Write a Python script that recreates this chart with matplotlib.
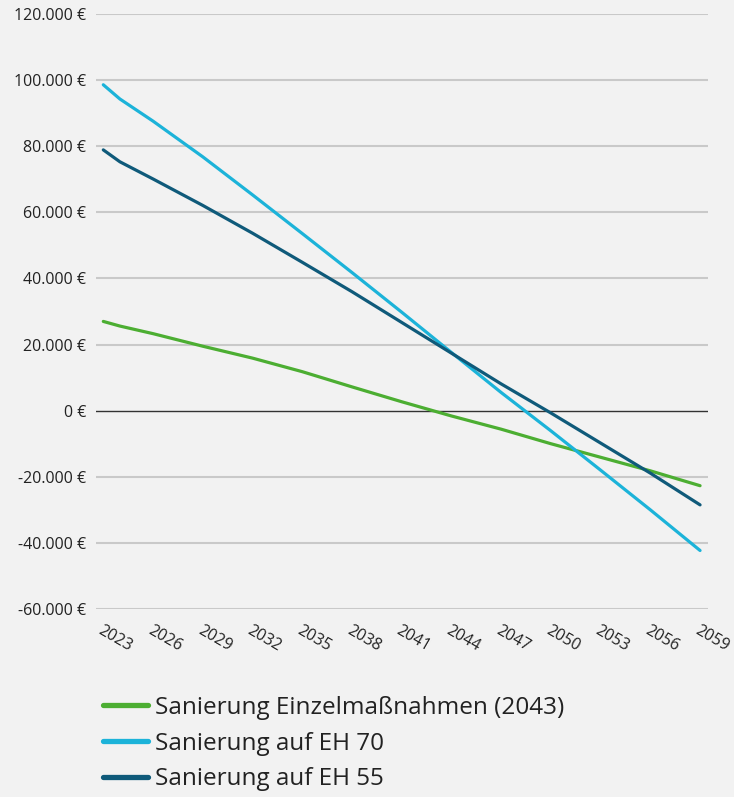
import matplotlib.pyplot as plt
from matplotlib.ticker import FuncFormatter

# Kumulierte Kosten-Differenz je Sanierungsvariante
years = [2023, 2024, 2026, 2029, 2032, 2035, 2038, 2041, 2044, 2047, 2050, 2053, 2056, 2059]
einzel = [27000, 25600, 23300, 19500, 15900, 11800, 7200, 2700, -1600, -5600, -10000, -14100, -18200, -22700]
eh70 = [98600, 94300, 87600, 76800, 65300, 53600, 41800, 29800, 17600, 5500, -6100, -18000, -30000, -42300]
eh55 = [78900, 75300, 70100, 62100, 53700, 44900, 36000, 26700, 17400, 8100, -700, -9800, -18900, -28500]

labels = ["Sanierung Einzelmaßnahmen (2043)", "Sanierung auf EH 70", "Sanierung auf EH 55"]
colors = ["#4cae32", "#1cb3d9", "#0f5a7a"]
xticks = list(range(2023, 2060, 3))
yticks = list(range(-60000, 120001, 20000))

plt.rcParams['font.family'] = ['Open Sans', 'DejaVu Sans']
bg = "#f2f2f2"

fig = plt.figure(figsize=(7.34, 7.97), dpi=100, facecolor=bg)
ax = fig.add_axes([0.1308, 0.2359, 0.8338, 0.7465], facecolor=bg)

for yv in yticks:
    if yv == 0:
        ax.axhline(yv, color="#333333", lw=1.0, zorder=1)
    else:
        ax.axhline(yv, color="#c9c9c9", lw=1.5, zorder=1)

for series, lab, col in zip([einzel, eh70, eh55], labels, colors):
    ax.plot(years, series, color=col, lw=2.3, label=lab, zorder=3,
            solid_capstyle="round")

ax.set_xlim(2022.56, 2059.48)
ax.set_ylim(-60000, 120000)
ax.set_xticks(xticks)
ax.set_yticks(yticks)


def euro(v, pos):
    return f"{int(v):,} €".replace(",", ".")


ax.yaxis.set_major_formatter(FuncFormatter(euro))
ax.tick_params(axis="both", length=0, labelsize=11.5, colors="#222222")
ax.tick_params(axis="y", pad=7)
ax.tick_params(axis="x", pad=10)
for t in ax.get_xticklabels():
    t.set_rotation(-30)
    t.set_ha("left")
    t.set_va("top")
    t.set_rotation_mode("anchor")

for s in ax.spines.values():
    s.set_visible(False)

handles, labs = ax.get_legend_handles_labels()
leg = fig.legend(handles, labs, loc="upper left", bbox_to_anchor=(0.127, 0.139),
                 frameon=False, fontsize=17.5, handlelength=1.85, handletextpad=0.3,
                 labelspacing=0.48, borderaxespad=0)
for line in leg.get_lines():
    line.set_linewidth(3.8)
for txt in leg.get_texts():
    txt.set_color("#222222")

fig.savefig("out.png", dpi=100, facecolor=bg)
